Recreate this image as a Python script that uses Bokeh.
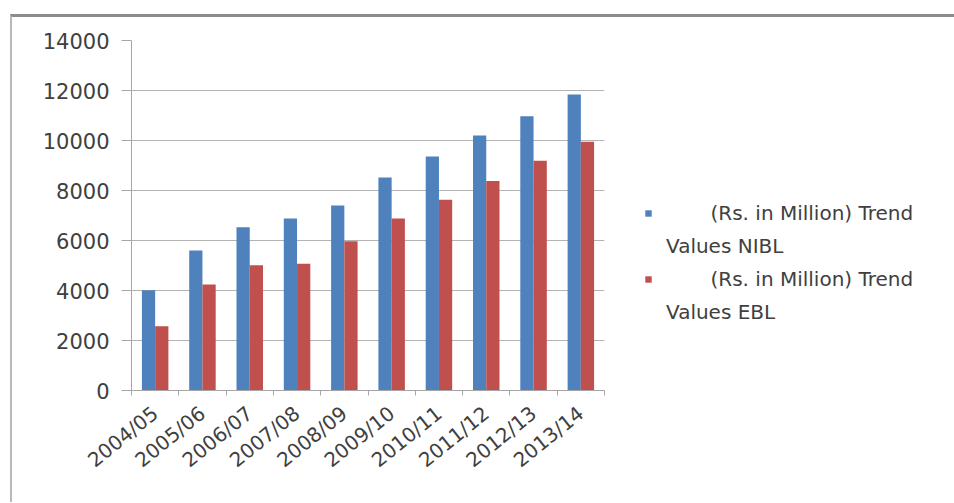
from bokeh.plotting import figure
from bokeh.models import FixedTicker, Legend, LegendItem, ColumnDataSource
from bokeh.embed import file_html
from bokeh.resources import INLINE

categories = ["2004/05", "2005/06", "2006/07", "2007/08", "2008/09",
              "2009/10", "2010/11", "2011/12", "2012/13", "2013/14"]
nibl = [4010, 5600, 6530, 6880, 7400, 8520, 9360, 10200, 10970, 11840]
ebl = [2570, 4240, 5010, 5070, 5975, 6880, 7630, 8380, 9190, 9950]
series_line1 = ["(Rs. in Million) Trend", "(Rs. in Million) Trend"]
series_line2 = ["Values NIBL", "Values EBL"]
y_ticks = [0, 2000, 4000, 6000, 8000, 10000, 12000, 14000]

BLUE = "#4f81bd"
RED = "#c0504d"
FONT = "DejaVu Sans"
TXT = "#404040"

idx = list(range(len(categories)))
bw = 0.28
src = ColumnDataSource(dict(
    xb=[i + 0.5 - bw / 2 for i in idx],
    xr=[i + 0.5 + bw / 2 for i in idx],
    nibl=nibl, ebl=ebl))

p = figure(frame_width=473, frame_height=350, x_range=(0, len(categories)), y_range=(0, 14000),
           output_backend="svg", toolbar_location=None,
           min_border_left=119, min_border_top=23, min_border_right=5, min_border_bottom=112)
p.styles = {"margin-left": "10px", "margin-top": "14px",
            "border-top": "3px solid #8c8c8c", "border-left": "2px solid #b8b8b8"}
p.outline_line_color = None
p.background_fill_color = "white"
p.border_fill_color = "white"

rb = p.vbar(x="xb", width=bw, top="nibl", bottom=0, source=src, fill_color=BLUE, line_color=None)
rr = p.vbar(x="xr", width=bw, top="ebl", bottom=0, source=src, fill_color=RED, line_color=None)
# invisible renderer used for the second line of each legend entry
rnone = p.vbar(x=[], width=bw, top=[], bottom=0, fill_alpha=0, line_alpha=0)

# y axis
p.yaxis.ticker = FixedTicker(ticks=y_ticks)
p.yaxis.axis_line_color = "#a6a6a6"
p.yaxis.major_tick_line_color = "#a6a6a6"
p.yaxis.major_tick_out = 10
p.yaxis.major_tick_in = 0
p.yaxis.minor_tick_line_color = None
p.yaxis.major_label_text_font = FONT
p.yaxis.major_label_text_font_size = "21px"
p.yaxis.major_label_text_color = TXT
p.yaxis.major_label_standoff = 12

# x axis: labels at category centres, ticks at boundaries
centers = [i + 0.5 for i in idx]
p.xaxis.ticker = FixedTicker(ticks=centers, minor_ticks=list(range(len(categories) + 1)))
p.xaxis.major_label_overrides = {c: lab for c, lab in zip(centers, categories)}
p.xaxis.major_tick_line_color = None
p.xaxis.minor_tick_line_color = "#a6a6a6"
p.xaxis.minor_tick_out = 5
p.xaxis.minor_tick_in = 0
p.xaxis.axis_line_color = "#a6a6a6"
p.xaxis.major_label_orientation = 0.68
p.xaxis.major_label_text_font = FONT
p.xaxis.major_label_text_font_size = "20px"
p.xaxis.major_label_text_color = TXT
p.xaxis.major_label_standoff = 14

p.xgrid.grid_line_color = None
p.ygrid.ticker = FixedTicker(ticks=y_ticks)
p.ygrid.grid_line_color = "#b3b3b3"
p.ygrid.grid_line_width = 1

nb = "\u00a0" * 7
legend = Legend(items=[
    LegendItem(label=nb + series_line1[0], renderers=[rb]),
    LegendItem(label=series_line2[0], renderers=[rnone]),
    LegendItem(label=nb + series_line1[1], renderers=[rr]),
    LegendItem(label=series_line2[1], renderers=[rnone]),
], location=(40, 66))
legend.border_line_color = None
legend.background_fill_alpha = 0
legend.glyph_width = 8
legend.glyph_height = 8
legend.label_height = 24
legend.label_standoff = 14
legend.spacing = 9
legend.padding = 0
legend.margin = 40
legend.label_text_font = FONT
legend.label_text_font_size = "20px"
legend.label_text_color = TXT
p.add_layout(legend, "right")

html = file_html(p, INLINE)
open("out.html", "w").write(html)
